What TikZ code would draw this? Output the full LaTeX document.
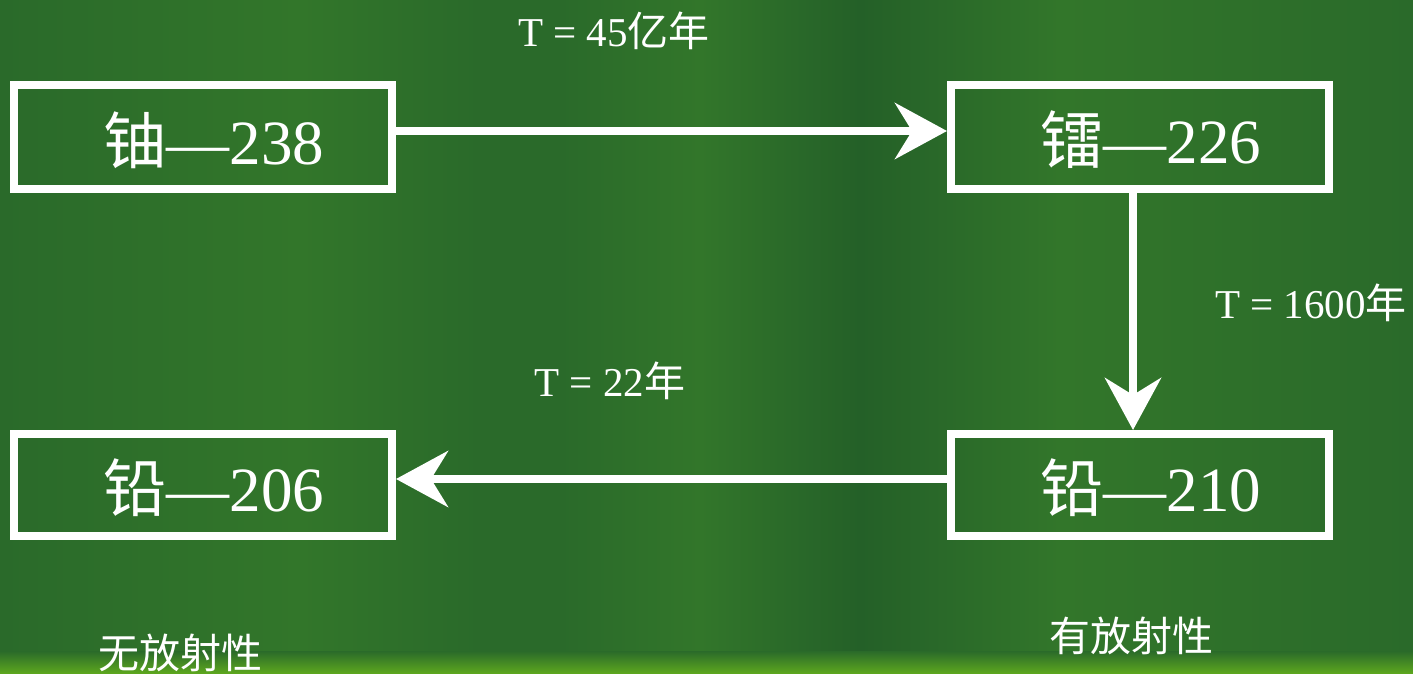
\documentclass[tikz,border=0pt]{standalone}
\usepackage{fontspec}
\setmainfont{Liberation Serif}
\newfontfamily\cjk{Noto Sans CJK SC}
\usetikzlibrary{arrows.meta,positioning}
\definecolor{bgdark}{RGB}{42,106,42}
\definecolor{bgmid}{RGB}{50,118,42}
\definecolor{bglight}{RGB}{92,166,30}
\definecolor{bgdeep}{RGB}{36,96,40}
\tikzset{
  isobox/.style={draw=white, line width=8pt, minimum width=378pt, minimum height=104pt, inner sep=0pt},
  isotext/.style={text=white, font=\fontsize{63}{63}\selectfont, inner sep=0pt},
  halflife/.style={text=white, font=\fontsize{41}{41}\selectfont, inner sep=0pt},
  note/.style={text=white, font=\cjk\fontsize{41}{41}\selectfont, inner sep=0pt},
  decay/.style={draw=white, line width=8pt, -{Stealth[length=52pt, width=56pt, inset=17pt]}},
}
\begin{document}
\begin{tikzpicture}[x=1pt, y=1pt]
  % background
  \useasboundingbox (0,0) rectangle (1413,673);
  \fill[bgdark] (0,0) rectangle (1413,673);
  \shade[left color=bgdark, right color=bgmid] (0,0) rectangle (300,673);
  \shade[left color=bgmid, right color=bgdark] (300,0) rectangle (480,673);
  \shade[left color=bgdark, right color=bgmid] (560,0) rectangle (700,673);
  \shade[left color=bgmid, right color=bgdeep] (700,0) rectangle (860,673);
  \shade[left color=bgdeep, right color=bgmid] (860,0) rectangle (1060,673);
  \shade[left color=bgmid, right color=bgdark] (1060,0) rectangle (1413,673);
  \shade[bottom color=bglight, top color=bgdark] (0,0) rectangle (1413,22);

  % isotope boxes
  \node[isobox] (u238)  at (203,536) {};
  \node[isobox] (ra226) at (1140,536) {};
  \node[isobox, minimum height=102pt] (pb206) at (203,188) {};
  \node[isobox, minimum height=102pt] (pb210) at (1140,188) {};

  \node[isotext] (u238t)  at ([xshift=11pt, yshift=-3pt]u238.center)  {{\cjk 铀}—238};
  \node[isotext] (ra226t) at ([xshift=11pt, yshift=-3pt]ra226.center) {{\cjk 镭}—226};
  \node[isotext] (pb206t) at ([xshift=11pt, yshift=-3pt]pb206.center) {{\cjk 铅}—206};
  \node[isotext] (pb210t) at ([xshift=11pt, yshift=-3pt]pb210.center) {{\cjk 铅}—210};

  % decay steps
  \draw[decay] ([yshift=6pt]u238.east) -- ([yshift=6pt]ra226.west);
  \draw[decay] ([xshift=-7pt]ra226.south) -- ([xshift=-7pt]pb210.north);
  \draw[decay] ([yshift=6pt]pb210.west) -- ([yshift=6pt]pb206.east);

  % half-lives
  \node[halflife] (t1) at (614,642) {T = 45{\cjk 亿年}};
  \node[halflife] (t2) at (1311,370) {T = 1600{\cjk 年}};
  \node[halflife] (t3) at (610,292) {T = 22{\cjk 年}};

  % radioactivity notes
  \node[note] (n1) at (180,20) {无放射性};
  \node[note] (n2) at (1131,37) {有放射性};
\end{tikzpicture}
\end{document}
